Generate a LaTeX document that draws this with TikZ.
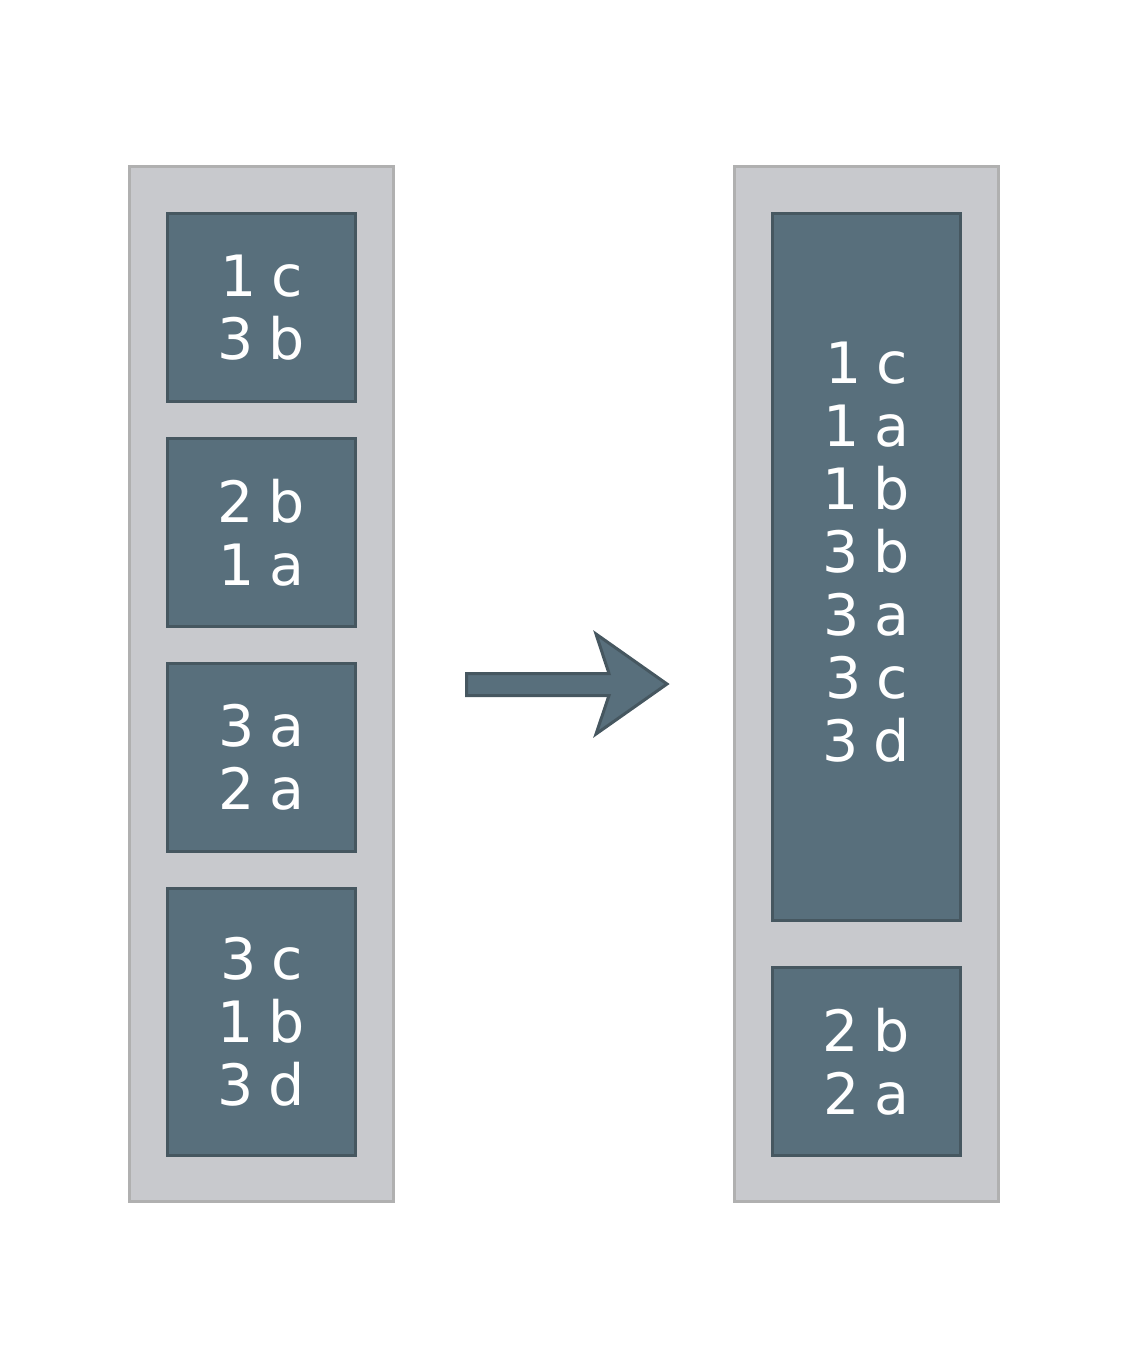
\documentclass[tikz,border=0pt]{standalone}
\usepackage{fontspec}
\setmainfont{DejaVu Sans}
\usetikzlibrary{positioning}
\definecolor{binfill}{RGB}{200,201,205}
\definecolor{binline}{RGB}{176,176,176}
\definecolor{itemfill}{RGB}{88,111,124}
\definecolor{itemline}{RGB}{70,87,96}
\newcommand{\itemfont}{\fontsize{57}{63}\selectfont\spaceskip 0.26em\relax}

\begin{document}
\begin{tikzpicture}[x=1pt,y=-1pt,line width=3pt]
      \tikzstyle{bin}=[draw=binline, fill=binfill, minimum width=264pt, minimum height=1035pt]
      \tikzstyle{item}=[draw=itemline, fill=itemfill, text=white, align=center,
        minimum width=188pt, minimum height=188pt, font=\itemfont]
      \useasboundingbox (0,0) rectangle (1129,1369);
      % 
      \node [bin] (binL) at (261.5,684) {};
      \node [bin] (binR) at (866.5,684) {};
      % 
      \node [item] (l1) at (261.5,307.5)          {1 c\\3 b};
      \node [item] (l2) [below=34pt of l1]        {2 b\\1 a};
      \node [item] (l3) [below=34pt of l2]        {3 a\\2 a};
      \node [item, minimum height=267pt] (l4) [below=34pt of l3] {3 c\\1 b\\3 d};
      % 
      \node [item, minimum height=707pt] (r1) at (866.5,567) {};
      \node [item, draw=none, fill=none] (r1text) at ([yshift=15pt]r1.center)
        {1 c\\1 a\\1 b\\3 b\\3 a\\3 c\\3 d};
      \node [item] (r2) [below=44pt of r1]        {2 b\\2 a};
      % 
      \draw [draw=itemline, fill=itemfill, line join=miter]
        (466.5,673.5) -- (609,673.5) -- (596,634) -- (667,684) -- (596,734) -- (609,695.5) -- (466.5,695.5) -- cycle;
\end{tikzpicture}
\end{document}
